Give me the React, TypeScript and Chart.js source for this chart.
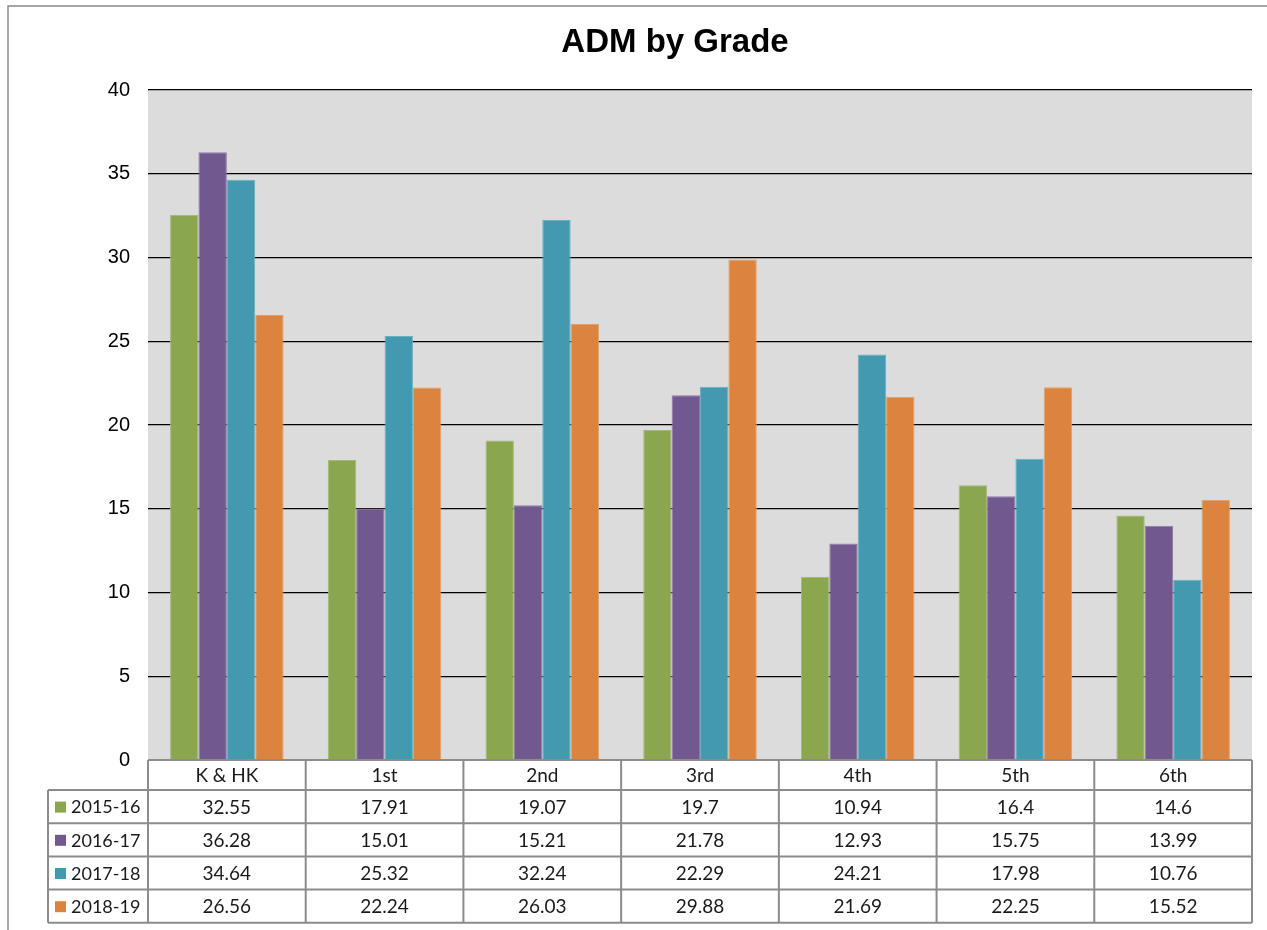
import React, { useEffect, useRef } from "react";
import { Chart, registerables } from "chart.js";

Chart.register(...registerables);

const categories = ["K & HK", "1st", "2nd", "3rd", "4th", "5th", "6th"];
const seriesNames = ["2015-16", "2016-17", "2017-18", "2018-19"];
const s2015 = [32.55, 17.91, 19.07, 19.7, 10.94, 16.4, 14.6];
const s2016 = [36.28, 15.01, 15.21, 21.78, 12.93, 15.75, 13.99];
const s2017 = [34.64, 25.32, 32.24, 22.29, 24.21, 17.98, 10.76];
const s2018 = [26.56, 22.24, 26.03, 29.88, 21.69, 22.25, 15.52];
const colors = ["#8aa64e", "#71598f", "#4299b0", "#dc843d"];
const borderColors = ["#a3b977", "#8d7aa6", "#6bb0c2", "#e3a06a"];
const title = "ADM by Grade";

const W = 1267;
const H = 930;

export default function App() {
  const ref = useRef<HTMLCanvasElement | null>(null);
  useEffect(() => {
    document.body.style.margin = "0";
    const series = [s2015, s2016, s2017, s2018];
    const decorPlugin = {
      id: "decor",
      beforeDraw(chart: any) {
        const { ctx, chartArea } = chart;
        ctx.save();
        ctx.fillStyle = "#ffffff";
        ctx.fillRect(0, 0, W, H);
        ctx.fillStyle = "#dcdcdc";
        ctx.fillRect(chartArea.left, chartArea.top, chartArea.right - chartArea.left, chartArea.bottom - chartArea.top);
        ctx.restore();
      },
      afterDraw(chart: any) {
        const { ctx, chartArea } = chart;
        ctx.save();
        ctx.strokeStyle = "#8a8a8a";
        ctx.lineWidth = 1.5;
        ctx.beginPath();
        ctx.moveTo(8, H);
        ctx.lineTo(8, 6);
        ctx.lineTo(W, 6);
        ctx.stroke();
        ctx.fillStyle = "#000";
        ctx.font = "bold 33px 'Liberation Sans', Arial, sans-serif";
        ctx.textAlign = "center";
        ctx.textBaseline = "middle";
        ctx.fillText(title, 675, 43);
        const left = chartArea.left;
        const right = chartArea.right;
        const top = chartArea.bottom;
        const n = categories.length;
        const cw = (right - left) / n;
        const headerH = 30;
        const rowH = 33.2;
        const legendLeft = 48;
        const tableBottom = top + headerH + rowH * seriesNames.length;
        ctx.strokeStyle = "#8c8c8c";
        ctx.lineWidth = 2;
        ctx.beginPath();
        ctx.moveTo(left, top);
        ctx.lineTo(right, top);
        for (let r = 0; r <= seriesNames.length; r++) {
          const y = top + headerH + r * rowH;
          ctx.moveTo(legendLeft, y);
          ctx.lineTo(right, y);
        }
        for (let c = 0; c <= n; c++) {
          const x = left + c * cw;
          ctx.moveTo(x, top);
          ctx.lineTo(x, tableBottom);
        }
        ctx.moveTo(legendLeft, top + headerH);
        ctx.lineTo(legendLeft, tableBottom);
        ctx.stroke();
        ctx.fillStyle = "#1a1a1a";
        ctx.font = "19px Lato, 'Open Sans', sans-serif";
        ctx.textAlign = "center";
        ctx.textBaseline = "middle";
        const xs = chart.scales.x;
        categories.forEach((cat, i) => {
          const cx = xs.getPixelForValue(i);
          ctx.fillText(cat, cx, top + headerH / 2 + 1);
        });
        series.forEach((vals, r) => {
          const cy = top + headerH + r * rowH + rowH / 2 + 1;
          ctx.font = "19px Lato, 'Open Sans', sans-serif";
          vals.forEach((v, i) => {
            ctx.fillText(String(v), xs.getPixelForValue(i), cy);
          });
          ctx.fillStyle = colors[r];
          ctx.fillRect(55, cy - 6, 11, 11);
          ctx.fillStyle = "#1a1a1a";
          ctx.textAlign = "left";
          ctx.font = "18px Lato, 'Open Sans', sans-serif";
          ctx.fillText(seriesNames[r], 71, cy);
          ctx.textAlign = "center";
        });
        ctx.restore();
      },
    };
    const chart = new Chart(ref.current as HTMLCanvasElement, {
      type: "bar",
      data: {
        labels: categories,
        datasets: series.map((vals, i) => ({
          label: seriesNames[i],
          data: vals,
          backgroundColor: colors[i],
          borderColor: borderColors[i],
          borderWidth: 1,
          categoryPercentage: 0.72,
          barPercentage: 1.0,
        })),
      },
      options: {
        animation: false,
        responsive: false,
        devicePixelRatio: 1,
        layout: { padding: { top: 90, bottom: 170, left: 0, right: 15 } },
        plugins: { legend: { display: false }, title: { display: false }, tooltip: { enabled: false } },
        scales: {
          x: { display: false, grid: { display: false } },
          y: {
            min: 0,
            max: 40,
            ticks: {
              stepSize: 5,
              color: "#000",
              padding: 18,
              font: { size: 20, family: "'Liberation Sans', Arial, sans-serif" },
            },
            grid: { color: "#000", lineWidth: 1.2, drawTicks: false },
            border: { display: false },
            afterFit(scale: any) {
              scale.width = 148;
            },
          },
        },
      },
      plugins: [decorPlugin],
    });
    return () => chart.destroy();
  }, []);
  return <canvas ref={ref} width={W} height={H} style={{ display: "block" }} />;
}
